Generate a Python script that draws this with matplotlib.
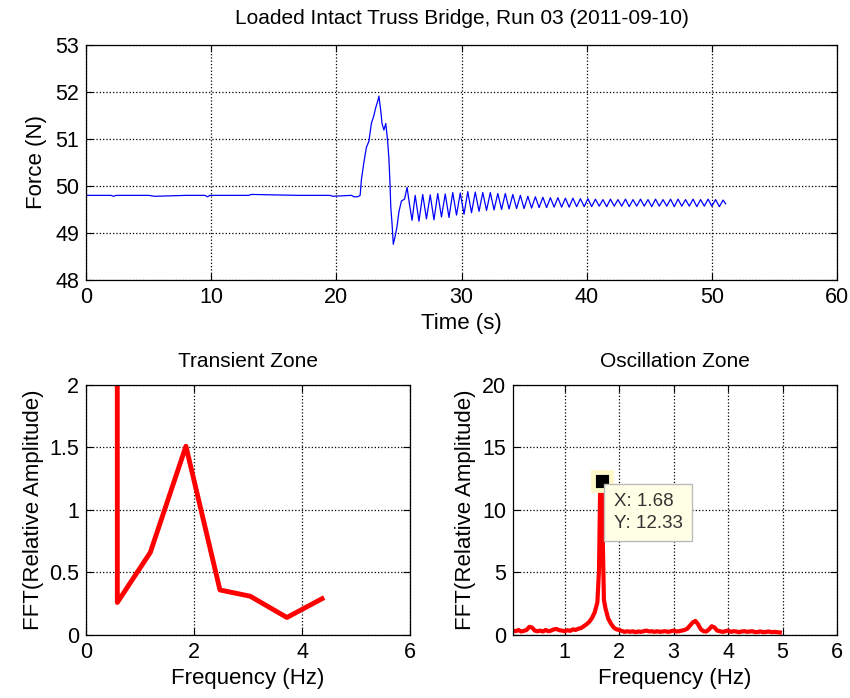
import numpy as np
import matplotlib
matplotlib.use("Agg")
import matplotlib.pyplot as plt

plt.rcParams['font.family'] = ['Liberation Sans', 'DejaVu Sans']

# ---- top panel: force record, vertices ----
lead_t = [0.0, 2.0, 2.2, 2.4, 5.0, 5.5, 8.0, 9.5, 9.7, 9.9, 13.0, 13.2, 17.0, 19.5, 19.7,
          21.2, 21.4, 21.7, 21.9, 22.0, 22.2, 22.4, 22.6, 22.8, 23.0, 23.15, 23.3,
          23.4, 23.55, 23.65, 23.8, 23.95, 24.1, 24.2, 24.28, 24.35, 24.45, 24.55,
          24.7, 24.85, 25.0, 25.2, 25.45, 25.65, 25.85, 26.05]
lead_f = [49.80, 49.80, 49.78, 49.80, 49.80, 49.78, 49.80, 49.80, 49.77, 49.80, 49.80, 49.82, 49.80, 49.80, 49.78,
          49.80, 49.77, 49.77, 49.80, 50.13, 50.50, 50.82, 50.95, 51.33, 51.50, 51.67, 51.80,
          51.91, 51.60, 51.33, 51.19, 51.33, 50.95, 50.58, 50.10, 49.55, 49.20, 48.76,
          48.93, 49.14, 49.45, 49.68, 49.72, 49.97, 49.60, 49.27]

peak_t = [26.3, 26.9, 27.5, 28.1, 28.7, 29.3, 29.9, 30.5, 31.1, 31.7, 32.3, 32.9, 33.5, 34.1,
          34.7, 35.3, 35.9, 36.5, 37.1, 37.7, 38.3, 38.9, 39.5, 40.1, 40.7, 41.3, 41.9, 42.5,
          43.1, 43.7, 44.3, 44.9, 45.5, 46.1, 46.7, 47.3, 47.9, 48.5, 49.1, 49.7, 50.3, 50.9]
peak_f = [49.80, 49.82, 49.81, 49.84, 49.83, 49.86, 49.85, 49.88, 49.87, 49.86, 49.86, 49.84, 49.84, 49.82,
          49.80, 49.78, 49.77, 49.76, 49.75, 49.75, 49.74, 49.74, 49.73, 49.73, 49.72, 49.71, 49.72, 49.71,
          49.72, 49.71, 49.72, 49.71, 49.72, 49.71, 49.72, 49.72, 49.71, 49.72, 49.71, 49.72, 49.71, 49.70]
trough_t = [26.6, 27.2, 27.8, 28.4, 29.0, 29.6, 30.2, 30.8, 31.4, 32.0, 32.6, 33.2, 33.8, 34.4,
            35.0, 35.6, 36.2, 36.8, 37.4, 38.0, 38.6, 39.2, 39.8, 40.4, 41.0, 41.6, 42.2, 42.8,
            43.4, 44.0, 44.6, 45.2, 45.8, 46.4, 47.0, 47.6, 48.2, 48.8, 49.4, 50.0, 50.6, 51.1]
trough_f = [49.25, 49.30, 49.28, 49.34, 49.33, 49.38, 49.40, 49.43, 49.46, 49.48, 49.49, 49.50, 49.51, 49.52,
            49.52, 49.53, 49.54, 49.54, 49.55, 49.55, 49.55, 49.56, 49.56, 49.56, 49.57, 49.56, 49.57, 49.57,
            49.56, 49.57, 49.57, 49.56, 49.57, 49.57, 49.56, 49.57, 49.57, 49.56, 49.57, 49.57, 49.56, 49.62]

# ---- bottom left: FFT of transient zone ----
tr_freq = [0.0, 0.58, 1.19, 1.85, 2.48, 3.04, 3.72, 4.37]
tr_amp = [800.0, 0.26, 0.66, 1.51, 0.36, 0.31, 0.14, 0.29]

# ---- bottom right: FFT of oscillation zone ----
os_freq = [0.05, 0.10, 0.15, 0.20, 0.25, 0.30, 0.35, 0.40, 0.45, 0.50, 0.55, 0.60, 0.65, 0.70,
           0.75, 0.80, 0.85, 0.90, 0.95, 1.00, 1.05, 1.10, 1.15, 1.20, 1.25, 1.30, 1.35, 1.40,
           1.45, 1.50, 1.55, 1.60, 1.63, 1.65, 1.68, 1.70, 1.72, 1.75, 1.80, 1.85, 1.90, 1.95,
           2.00, 2.05, 2.10, 2.15, 2.20, 2.25, 2.30, 2.35, 2.40, 2.45, 2.50, 2.55, 2.60, 2.65,
           2.70, 2.75, 2.80, 2.85, 2.90, 2.95, 3.00, 3.05, 3.10, 3.15, 3.20, 3.25, 3.30, 3.35,
           3.40, 3.45, 3.50, 3.55, 3.60, 3.65, 3.70, 3.75, 3.80, 3.85, 3.90, 3.95, 4.00, 4.05,
           4.10, 4.15, 4.20, 4.25, 4.30, 4.35, 4.40, 4.45, 4.50, 4.55, 4.60, 4.65, 4.70, 4.75,
           4.80, 4.85, 4.90, 4.95]
os_amp = [0.35, 0.30, 0.40, 0.28, 0.33, 0.40, 0.65, 0.60, 0.35, 0.30, 0.35, 0.28, 0.40, 0.30,
          0.35, 0.45, 0.48, 0.38, 0.35, 0.30, 0.38, 0.33, 0.45, 0.40, 0.50, 0.55, 0.70, 0.85,
          1.05, 1.35, 1.80, 2.60, 5.20, 11.50, 12.33, 7.40, 2.80, 2.10, 1.30, 0.90, 0.60, 0.45,
          0.40, 0.32, 0.25, 0.30, 0.25, 0.30, 0.22, 0.28, 0.25, 0.30, 0.35, 0.28, 0.30, 0.25,
          0.30, 0.25, 0.28, 0.30, 0.25, 0.30, 0.35, 0.28, 0.30, 0.35, 0.40, 0.50, 0.75, 1.00,
          1.12, 0.85, 0.45, 0.30, 0.28, 0.45, 0.70, 0.60, 0.35, 0.30, 0.25, 0.30, 0.35, 0.25,
          0.30, 0.28, 0.22, 0.28, 0.30, 0.25, 0.28, 0.30, 0.22, 0.25, 0.28, 0.22, 0.25, 0.28,
          0.22, 0.25, 0.22, 0.20]

tip_x, tip_y = 1.68, 12.33

# build top trace by interleaving peaks and troughs
osc_t, osc_f = [], []
for a, b, c, d in zip(peak_t, peak_f, trough_t, trough_f):
    osc_t += [a, c]
    osc_f += [b, d]
force_t = np.array(lead_t + osc_t)
force_f = np.array(lead_f + osc_f)

TICK_FS = 15.5
LABEL_FS = 16
TITLE_FS = 15


def matlab_style(ax):
    ax.grid(True, color='black', linestyle=':', linewidth=0.9)
    ax.tick_params(direction='in', top=True, right=True, labelsize=TICK_FS, length=5, pad=5)
    for s in ax.spines.values():
        s.set_linewidth(0.9)


fig = plt.figure(figsize=(8.5, 6.98), dpi=100, facecolor='w')

ax1 = fig.add_axes([0.1012, 0.5989, 0.8835, 0.3367])
ax1.plot(force_t, force_f, color='#0000ff', linewidth=0.9)
ax1.set_xlim(0, 60)
ax1.set_ylim(48, 53)
ax1.set_xticks(range(0, 61, 10))
ax1.set_yticks(range(48, 54))
ax1.set_xlabel('Time (s)', fontsize=LABEL_FS, labelpad=4)
ax1.set_ylabel('Force (N)', fontsize=LABEL_FS, labelpad=6)
ax1.set_title('Loaded Intact Truss Bridge, Run 03 (2011-09-10)', fontsize=TITLE_FS, pad=15)
matlab_style(ax1)

ax2 = fig.add_axes([0.1012, 0.0903, 0.3812, 0.3582])
ax2.plot(tr_freq, tr_amp, color='#ff0000', linewidth=3.5)
ax2.set_xlim(0, 6)
ax2.set_ylim(0, 2)
ax2.set_xticks(range(0, 7, 2))
ax2.set_yticks([0, 0.5, 1, 1.5, 2])
ax2.set_yticklabels(['0', '0.5', '1', '1.5', '2'])
ax2.set_xlabel('Frequency (Hz)', fontsize=LABEL_FS, labelpad=4)
ax2.set_ylabel('FFT(Relative Amplitude)', fontsize=LABEL_FS, labelpad=4)
ax2.set_title('Transient Zone', fontsize=TITLE_FS, pad=13)
matlab_style(ax2)

ax3 = fig.add_axes([0.6035, 0.0903, 0.3812, 0.3582])
ax3.plot(os_freq, os_amp, color='#ff0000', linewidth=3)
ax3.set_xlim(0.05, 6)
ax3.set_ylim(0, 20)
ax3.set_xticks(range(1, 7))
ax3.set_yticks(range(0, 21, 5))
ax3.set_xlabel('Frequency (Hz)', fontsize=LABEL_FS, labelpad=4)
ax3.set_ylabel('FFT(Relative Amplitude)', fontsize=LABEL_FS, labelpad=4)
ax3.set_title('Oscillation Zone', fontsize=TITLE_FS, pad=13)
matlab_style(ax3)

# data tip
ax3.plot([tip_x], [tip_y], marker='s', markersize=13, color='black',
         markeredgecolor='#fff8c8', markeredgewidth=3.5, zorder=5)
ax3.text(tip_x + 0.22, tip_y - 1.0, 'X: %.2f\nY: %.2f' % (tip_x, tip_y),
         fontsize=13.5, color='#333333', va='top', ha='left', linespacing=1.35,
         bbox=dict(boxstyle='square,pad=0.5', facecolor='#ffffe6', edgecolor='#bbbbbb', linewidth=1),
         zorder=6)

fig.savefig('out.png', dpi=100, facecolor='white')
